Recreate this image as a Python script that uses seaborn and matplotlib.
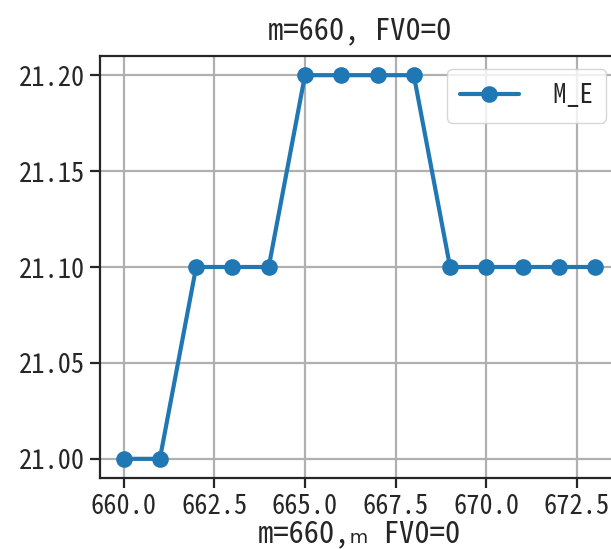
import matplotlib
matplotlib.use("Agg")
import matplotlib.pyplot as plt
import seaborn as sns
import pandas as pd

# data
m = [660, 661, 662, 663, 664, 665, 666, 667, 668, 669, 670, 671, 672, 673]
m_e = [21.0, 21.0, 21.1, 21.1, 21.1, 21.2, 21.2, 21.2, 21.2, 21.1, 21.1, 21.1, 21.1, 21.1]
yticks = [21.0, 21.05, 21.1, 21.15, 21.2]
xticks = [660, 662.5, 665, 667.5, 670, 672.5]
veri = pd.DataFrame({"m": m, "M_E": m_e})

sns.set_style("ticks")
plt.rcParams["font.family"] = ["Noto Sans Mono CJK JP", "Noto Sans CJK JP", "DejaVu Sans"]
plt.rcParams["axes.linewidth"] = 1.6
plt.rcParams["xtick.major.width"] = 1.6
plt.rcParams["ytick.major.width"] = 1.6
plt.rcParams["xtick.major.size"] = 7
plt.rcParams["ytick.major.size"] = 7

fig = plt.figure(figsize=(6.11, 5.49), dpi=100)
ax = fig.add_axes([0.1637, 0.1293, 0.849, 0.7687])
sns.lineplot(x="m", y="M_E", data=veri, marker="o", markersize=12, markeredgewidth=0,
             linewidth=3, color="#1f77b4", label=" M_E", ax=ax)
ax.grid(True, color="#b0b0b0", linewidth=1.6)
ax.set_yticks(yticks)
ax.set_yticklabels(["%.2f" % v for v in yticks])
ax.set_xticks(xticks)
ax.set_xticklabels(["%.1f" % v for v in xticks])
ax.tick_params(labelsize=19, pad=4)
ax.set_title("m=660, FV0=0", fontsize=22, pad=12)
ax.set_xlabel("m=660,\u2098 FV0=0", fontsize=22, labelpad=-1)
ax.set_ylabel("")
ax.legend(loc="upper right", fontsize=19, handlelength=2.2, borderpad=0.5)
fig.savefig("out.png", dpi=100)
